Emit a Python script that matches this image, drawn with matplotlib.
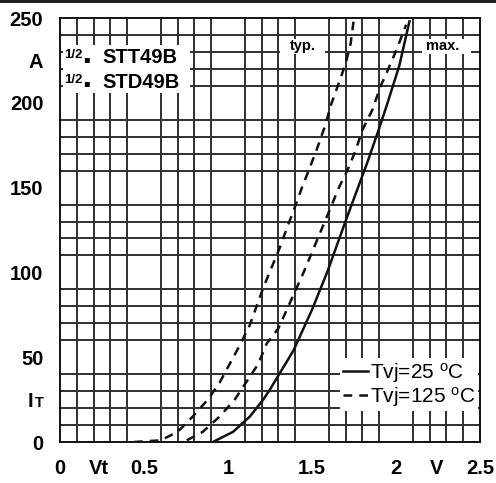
import matplotlib
matplotlib.use('Agg')
import matplotlib.pyplot as plt
from matplotlib.patches import Rectangle
import numpy as np

plt.rcParams['font.family'] = ['Liberation Sans', 'DejaVu Sans']

# forward characteristic
v_25 = [0.91, 1.03, 1.13, 1.21, 1.25, 1.39, 1.50, 1.59, 1.71, 1.77, 1.83, 1.90, 1.95, 2.02, 2.08]
i_25 = [0, 6, 15, 25, 31, 54, 78, 100, 133, 149, 165, 185, 200, 222, 248]

v_125_typ = [0.44, 0.60, 0.70, 0.79, 0.88, 0.95, 1.01, 1.07, 1.13, 1.17, 1.21, 1.26, 1.31, 1.35,
             1.40, 1.44, 1.48, 1.53, 1.58, 1.61, 1.65, 1.70, 1.73, 1.75]
i_125_typ = [0, 1, 6, 15, 25, 35, 46, 57, 69, 80, 91, 103, 115, 126,
             139, 150, 160, 173, 187, 198, 209, 223, 235, 250]

v_125_max = [0.755, 0.85, 0.95, 1.04, 1.12, 1.18, 1.23, 1.30, 1.45, 1.61, 1.66, 1.71, 1.76, 1.80,
             1.86, 1.905, 1.95, 2.006, 2.06]
i_125_max = [1, 6, 15, 25, 37, 46, 58, 67, 100, 138, 150, 160, 172, 184,
             196, 209, 219, 232, 246]

x_ticks = [0, 0.23, 0.5, 1, 1.5, 2, 2.24, 2.5]
x_labels = ['0', 'Vt', '0.5', '1', '1.5', '2', 'V', '2.5']
y_ticks = [0, 50, 100, 150, 200, 225, 250]
y_labels = ['0', '50', '100', '150', '200', 'A', '250']

fig = plt.figure(figsize=(4.96, 4.83), dpi=100)
ax = fig.add_axes([60/496, 1 - 442/483, 420/496, 424/483])

ax.set_xlim(0, 2.5)
ax.set_ylim(0, 250)

# grid every 0.1 V / 10 A
ax.set_xticks(np.arange(0, 2.51, 0.1), minor=True)
ax.set_yticks(np.arange(0, 251, 10), minor=True)
ax.grid(which='minor', color='#333333', lw=1.44, antialiased=False)
ax.grid(which='major', visible=False)
ax.set_axisbelow(True)

ax.set_xticks(x_ticks)
ax.set_xticklabels(x_labels, fontsize=14.5, fontweight='bold')
ax.set_yticks(y_ticks)
ax.set_yticklabels(y_labels, fontsize=14.5, fontweight='bold')
ax.tick_params(which='both', length=0)
ax.tick_params(axis='x', pad=12)
ax.tick_params(axis='y', pad=12)

# I_T label
ax.annotate('T', xy=(0, 24), xycoords=('axes fraction', 'data'), xytext=(-12, -1),
            textcoords='offset points', ha='right', va='center', fontsize=10.5, fontweight='bold')
ax.annotate('I', xy=(0, 24), xycoords=('axes fraction', 'data'), xytext=(-19, 0),
            textcoords='offset points', ha='right', va='center', fontsize=14.5, fontweight='bold')

for s in ax.spines.values():
    s.set_linewidth(1.4)
    s.set_color('#111111')

ax.plot(v_25, i_25, color='#111111', lw=1.8, label='Tvj=25 $\\mathregular{^o}$C', zorder=3)
ax.plot(v_125_typ, i_125_typ, color='#111111', lw=1.8, dashes=(3.5, 2.8),
        label='Tvj=125 $\\mathregular{^o}$C', zorder=3)
ax.plot(v_125_max, i_125_max, color='#111111', lw=1.8, dashes=(3.5, 2.8), zorder=3)

# white label boxes
ax.add_patch(Rectangle((0.018, 206), 0.756, 28, facecolor='white', edgecolor='none', zorder=2))
for yc, name in [(226.5, 'STT49B'), (212, 'STD49B')]:
    ax.text(0.08, yc + 1.5, '1/2', fontsize=9.5, fontweight='bold', ha='center', va='center', zorder=4)
    ax.text(0.16, yc - 0.5, '\u25aa', fontsize=7, ha='center', va='center', zorder=4,
            family=['DejaVu Sans'])
    ax.text(0.252, yc, name, fontsize=14.5, fontweight='bold', ha='left', va='center', zorder=4)

ax.add_patch(Rectangle((1.31, 228.5), 0.27, 9, facecolor='white', edgecolor='none', zorder=2))
ax.text(1.445, 233.5, 'typ.', fontsize=10.5, fontweight='bold', ha='center', va='center', zorder=4)
ax.add_patch(Rectangle((2.155, 228.5), 0.29, 9, facecolor='white', edgecolor='none', zorder=2))
ax.text(2.28, 233.5, 'max.', fontsize=10.5, fontweight='bold', ha='center', va='center', zorder=4)

leg = ax.legend(loc='lower right', bbox_to_anchor=(0.995, 0.072), fontsize=15, frameon=True,
                fancybox=False, framealpha=1, edgecolor='none', handlelength=1.2,
                handletextpad=0.1, borderpad=0.12, labelspacing=0.0, borderaxespad=0)
leg.set_zorder(5)

# dark rule along the top edge of the sheet
fig.add_artist(Rectangle((0, 1 - 3/483), 1, 3/483, transform=fig.transFigure,
                         facecolor='#222222', edgecolor='none'))

fig.savefig('out.png', dpi=100)
